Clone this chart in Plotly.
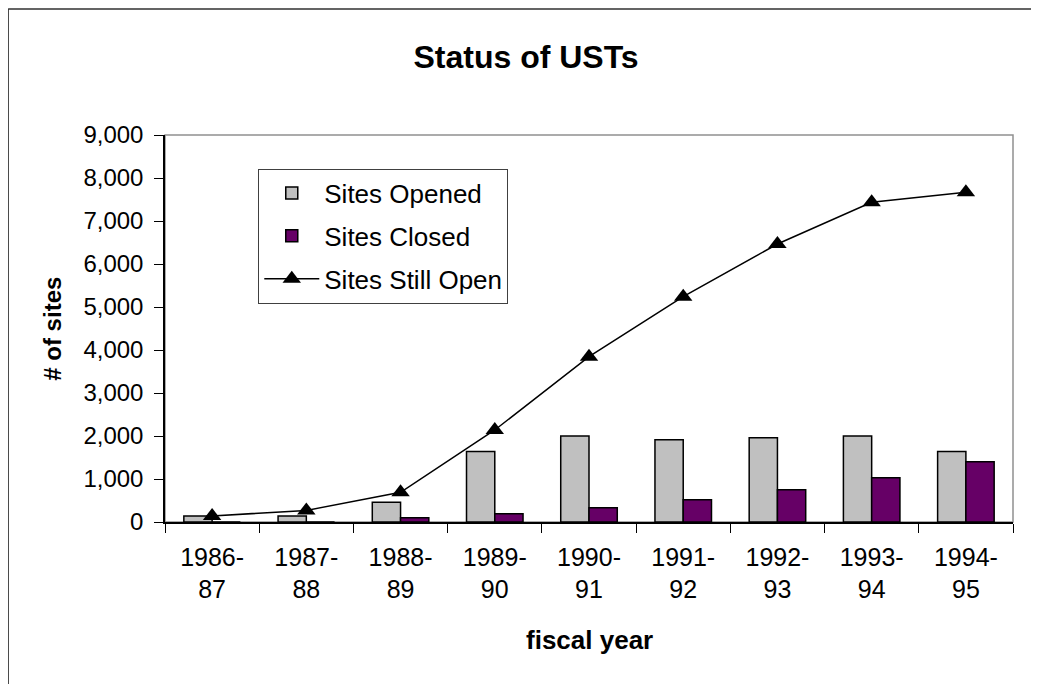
import plotly.graph_objects as go

categories = ["1986-<br>87", "1987-<br>88", "1988-<br>89", "1989-<br>90", "1990-<br>91",
              "1991-<br>92", "1992-<br>93", "1993-<br>94", "1994-<br>95"]
sites_opened = [140, 140, 460, 1640, 2000, 1910, 1960, 2000, 1640]
sites_closed = [0, 0, 100, 190, 330, 520, 750, 1030, 1400]
sites_still_open = [140, 270, 690, 2140, 3845, 5240, 6465, 7435, 7670]
y_ticks = [0, 1000, 2000, 3000, 4000, 5000, 6000, 7000, 8000, 9000]

FONT = "Liberation Sans, Arial, sans-serif"

fig = go.Figure()
fig.add_trace(go.Bar(
    x=categories, y=sites_opened, name="Sites Opened", legendgroup="a",
    marker=dict(color="#C0C0C0", line=dict(color="black", width=1.5)),
))
fig.add_trace(go.Bar(
    x=categories, y=sites_closed, name="Sites Closed", legendgroup="b",
    marker=dict(color="#660066", line=dict(color="black", width=1.5)),
))
fig.add_trace(go.Scatter(
    x=categories, y=sites_still_open, name="Sites Still Open", legendgroup="c",
    mode="lines+markers",
    line=dict(color="black", width=1.5),
    marker=dict(symbol="triangle-up", size=16, color="black"),
))

n = len(categories)
fig.update_layout(
    width=1039, height=684,
    margin=dict(l=157, r=34, t=127, b=170),
    paper_bgcolor="white", plot_bgcolor="white",
    font=dict(family=FONT, size=24, color="black"),
    barmode="group", bargap=0.4, bargroupgap=0,
    title=dict(text="<b>Status of USTs</b>", x=0.4986, xref="container", xanchor="center",
               y=0.928, yref="container", yanchor="middle",
               font=dict(size=32, family=FONT, color="black")),
    xaxis=dict(type="category", showline=True, linecolor="black", linewidth=1.5,
               ticks="outside", ticklen=9, tickcolor="black", tickwidth=1,
               tickson="boundaries", showgrid=False, ticklabelstandoff=12,
               tickfont=dict(size=25), range=[-0.5, n - 0.5]),
    yaxis=dict(range=[0, 9000], tickvals=y_ticks, ticktext=[f"{v:,}" for v in y_ticks],
               showline=True, linecolor="black", linewidth=1.5,
               ticks="outside", ticklen=9, tickcolor="black", tickwidth=1,
               showgrid=False, zeroline=False, ticklabelstandoff=6,
               tickfont=dict(size=24)),
    xaxis2=dict(overlaying="x", range=[-0.5, n - 0.5], tickvals=[i - 0.5 for i in range(n + 1)],
                ticks="inside", ticklen=9, tickcolor="black", showticklabels=False,
                showgrid=False, zeroline=False, showline=False, anchor="y"),
    yaxis2=dict(overlaying="y", range=[0, 9000], tickvals=y_ticks,
                ticks="inside", ticklen=9, tickcolor="black", showticklabels=False,
                showgrid=False, zeroline=False, showline=False, anchor="x"),
    legend=dict(x=0.11, y=0.913, xanchor="left", yanchor="top",
                bordercolor="#404040", borderwidth=1, bgcolor="white",
                font=dict(size=26, family=FONT), tracegroupgap=6,
                traceorder="grouped", itemwidth=55),
    showlegend=True,
)

fig.add_shape(type="rect", xref="paper", yref="paper", x0=0, x1=1, y0=0, y1=1,
              line=dict(color="#909090", width=1.5), layer="below")
# outer chart frame (left and top edges visible)
fig.add_shape(type="line", xref="paper", yref="paper", x0=-0.185, x1=-0.185, y0=-0.6, y1=1.3256,
              line=dict(color="#303030", width=1.5), layer="below")
fig.add_shape(type="line", xref="paper", yref="paper", x0=-0.185, x1=1.2, y0=1.3256, y1=1.3256,
              line=dict(color="#303030", width=1.5), layer="below")

fig.add_annotation(text="<b>fiscal year</b>", xref="paper", yref="paper", x=0.5, y=-0.305,
                   xanchor="center", yanchor="middle", showarrow=False,
                   font=dict(size=26, family=FONT, color="black"))
fig.add_annotation(text="<b># of sites</b>", xref="paper", yref="paper", x=-0.133, y=0.5,
                   xanchor="center", yanchor="middle", textangle=-90, showarrow=False,
                   font=dict(size=24, family=FONT, color="black"))

fig.write_html("out.html")
